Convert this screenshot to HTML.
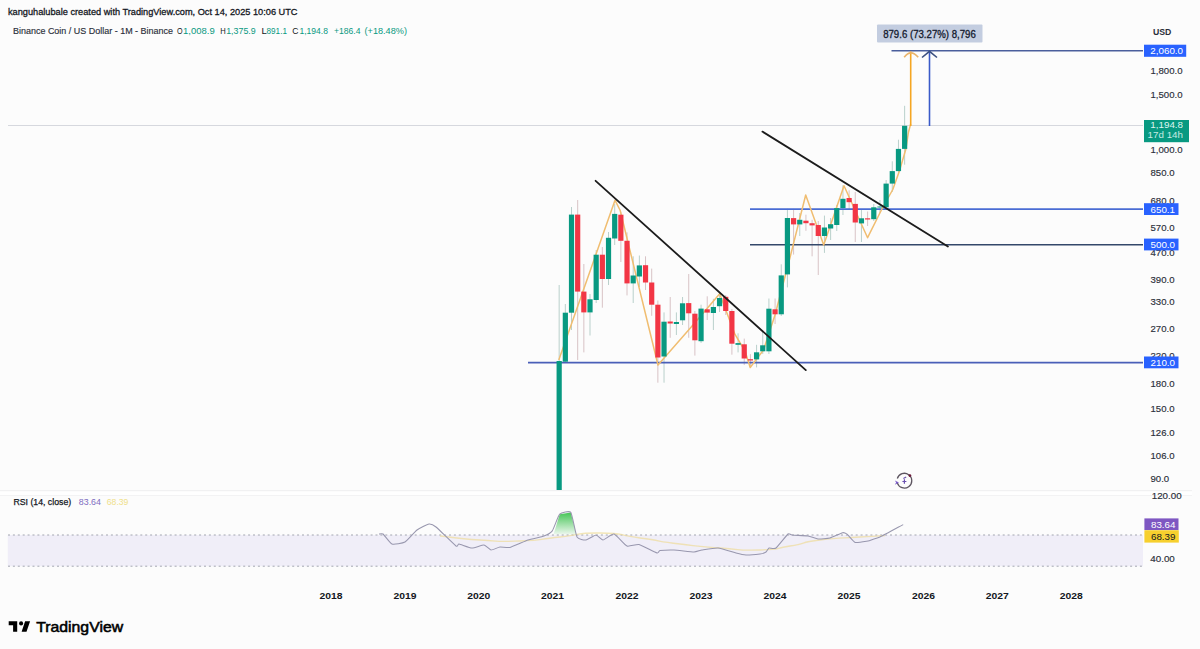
<!DOCTYPE html>
<html><head><meta charset="utf-8"><style>
html,body{margin:0;padding:0;background:#fcfcfc;}
svg{display:block;}
text{font-family:"Liberation Sans",sans-serif;}
.ax{font-size:9.8px;fill:#2a2e39;stroke:#2a2e39;stroke-width:0.15;}
.yr{font-size:9.8px;font-weight:bold;fill:#131722;}
</style></head><body>
<svg width="1200" height="649" viewBox="0 0 1200 649">
<rect width="1200" height="649" fill="#fcfcfc"/>
<!-- header -->
<text x="8" y="14.8" textLength="289.5" lengthAdjust="spacingAndGlyphs" style="font-size:9.9px;fill:#131722;stroke:#131722;stroke-width:0.3">kanguhalubale created with TradingView.com, Oct 14, 2025 10:06 UTC</text>
<text x="13" y="34" textLength="160" lengthAdjust="spacingAndGlyphs" style="font-size:9.6px;fill:#2a2e39;stroke:#2a2e39;stroke-width:0.15">Binance Coin / US Dollar - 1M - Binance</text>
<g style="font-size:9.6px">
<text x="177" y="34" textLength="5.6" lengthAdjust="spacingAndGlyphs" fill="#131722">O</text>
<text x="183" y="34" textLength="31.7" lengthAdjust="spacingAndGlyphs" fill="#089981">1,008.9</text>
<text x="220.3" y="34" textLength="5.5" lengthAdjust="spacingAndGlyphs" fill="#131722">H</text>
<text x="226.2" y="34" textLength="29.5" lengthAdjust="spacingAndGlyphs" fill="#089981">1,375.9</text>
<text x="261.5" y="34" fill="#131722">L</text>
<text x="266.5" y="34" textLength="20.5" lengthAdjust="spacingAndGlyphs" fill="#089981">891.1</text>
<text x="292.3" y="34" textLength="6.2" lengthAdjust="spacingAndGlyphs" fill="#131722">C</text>
<text x="299.5" y="34" textLength="28.5" lengthAdjust="spacingAndGlyphs" fill="#089981">1,194.8</text>
<text x="334" y="34" textLength="26.5" lengthAdjust="spacingAndGlyphs" fill="#089981">+186.4</text>
<text x="364.5" y="34" textLength="42.5" lengthAdjust="spacingAndGlyphs" fill="#089981">(+18.48%)</text>
</g>
<!-- current price line -->
<line x1="8" y1="125.5" x2="1143" y2="125.5" stroke="#d6d8de" stroke-width="1"/>
<!-- pane separator -->
<rect x="0" y="490.2" width="1192" height="5.6" fill="#ffffff"/>
<line x1="0" y1="490.7" x2="1192" y2="490.7" stroke="#f1f1f2" stroke-width="1.2"/>
<line x1="0" y1="495.5" x2="1192" y2="495.5" stroke="#f3f3f4" stroke-width="1.2"/>
<!-- wicks -->
<line x1="559.17" y1="285" x2="559.17" y2="490" stroke="#b9d0cb" stroke-width="1"/>
<line x1="565.34" y1="304" x2="565.34" y2="363" stroke="#b9d0cb" stroke-width="1"/>
<line x1="571.51" y1="207" x2="571.51" y2="330" stroke="#b9d0cb" stroke-width="1"/>
<line x1="577.68" y1="200" x2="577.68" y2="360" stroke="#d8c3c6" stroke-width="1"/>
<line x1="583.85" y1="264" x2="583.85" y2="352.4" stroke="#d8c3c6" stroke-width="1"/>
<line x1="590.01" y1="294" x2="590.01" y2="335.5" stroke="#b9d0cb" stroke-width="1"/>
<line x1="596.18" y1="250" x2="596.18" y2="303" stroke="#b9d0cb" stroke-width="1"/>
<line x1="602.35" y1="247" x2="602.35" y2="307.7" stroke="#d8c3c6" stroke-width="1"/>
<line x1="608.52" y1="232" x2="608.52" y2="285" stroke="#b9d0cb" stroke-width="1"/>
<line x1="614.69" y1="204" x2="614.69" y2="245" stroke="#b9d0cb" stroke-width="1"/>
<line x1="620.86" y1="212" x2="620.86" y2="262" stroke="#d8c3c6" stroke-width="1"/>
<line x1="627.03" y1="232.4" x2="627.03" y2="295.4" stroke="#d8c3c6" stroke-width="1"/>
<line x1="633.20" y1="256.3" x2="633.20" y2="303" stroke="#b9d0cb" stroke-width="1"/>
<line x1="639.37" y1="255.5" x2="639.37" y2="287" stroke="#b9d0cb" stroke-width="1"/>
<line x1="645.53" y1="256.3" x2="645.53" y2="290" stroke="#d8c3c6" stroke-width="1"/>
<line x1="651.70" y1="268.6" x2="651.70" y2="315.8" stroke="#d8c3c6" stroke-width="1"/>
<line x1="657.87" y1="300.5" x2="657.87" y2="382.7" stroke="#d8c3c6" stroke-width="1"/>
<line x1="664.04" y1="312.4" x2="664.04" y2="382.7" stroke="#b9d0cb" stroke-width="1"/>
<line x1="670.21" y1="297" x2="670.21" y2="337.8" stroke="#d8c3c6" stroke-width="1"/>
<line x1="676.38" y1="312.4" x2="676.38" y2="335" stroke="#b9d0cb" stroke-width="1"/>
<line x1="682.55" y1="297" x2="682.55" y2="325" stroke="#b9d0cb" stroke-width="1"/>
<line x1="688.72" y1="274" x2="688.72" y2="337.8" stroke="#d8c3c6" stroke-width="1"/>
<line x1="694.89" y1="311" x2="694.89" y2="355.6" stroke="#d8c3c6" stroke-width="1"/>
<line x1="701.06" y1="304.7" x2="701.06" y2="342.9" stroke="#b9d0cb" stroke-width="1"/>
<line x1="707.23" y1="296.3" x2="707.23" y2="320" stroke="#d8c3c6" stroke-width="1"/>
<line x1="713.39" y1="298.8" x2="713.39" y2="330" stroke="#b9d0cb" stroke-width="1"/>
<line x1="719.56" y1="293.7" x2="719.56" y2="312" stroke="#b9d0cb" stroke-width="1"/>
<line x1="725.73" y1="295" x2="725.73" y2="315" stroke="#d8c3c6" stroke-width="1"/>
<line x1="731.90" y1="309" x2="731.90" y2="354.7" stroke="#d8c3c6" stroke-width="1"/>
<line x1="738.07" y1="333.3" x2="738.07" y2="352.4" stroke="#b9d0cb" stroke-width="1"/>
<line x1="744.24" y1="338.6" x2="744.24" y2="365" stroke="#d8c3c6" stroke-width="1"/>
<line x1="750.41" y1="354.2" x2="750.41" y2="367" stroke="#d8c3c6" stroke-width="1"/>
<line x1="756.58" y1="344.8" x2="756.58" y2="367.4" stroke="#b9d0cb" stroke-width="1"/>
<line x1="762.75" y1="330" x2="762.75" y2="354" stroke="#b9d0cb" stroke-width="1"/>
<line x1="768.91" y1="298.5" x2="768.91" y2="354" stroke="#b9d0cb" stroke-width="1"/>
<line x1="775.08" y1="298.5" x2="775.08" y2="324" stroke="#d8c3c6" stroke-width="1"/>
<line x1="781.25" y1="264.3" x2="781.25" y2="316" stroke="#b9d0cb" stroke-width="1"/>
<line x1="787.42" y1="208.8" x2="787.42" y2="287.4" stroke="#b9d0cb" stroke-width="1"/>
<line x1="793.59" y1="208.8" x2="793.59" y2="254.6" stroke="#d8c3c6" stroke-width="1"/>
<line x1="799.76" y1="213" x2="799.76" y2="236" stroke="#b9d0cb" stroke-width="1"/>
<line x1="805.93" y1="214.7" x2="805.93" y2="230.8" stroke="#d8c3c6" stroke-width="1"/>
<line x1="812.10" y1="219.8" x2="812.10" y2="256.3" stroke="#d8c3c6" stroke-width="1"/>
<line x1="818.27" y1="221" x2="818.27" y2="275" stroke="#d8c3c6" stroke-width="1"/>
<line x1="824.44" y1="215.6" x2="824.44" y2="252.9" stroke="#b9d0cb" stroke-width="1"/>
<line x1="830.61" y1="218" x2="830.61" y2="240" stroke="#b9d0cb" stroke-width="1"/>
<line x1="836.77" y1="205" x2="836.77" y2="231" stroke="#b9d0cb" stroke-width="1"/>
<line x1="842.94" y1="185.3" x2="842.94" y2="215" stroke="#b9d0cb" stroke-width="1"/>
<line x1="849.11" y1="190.3" x2="849.11" y2="209" stroke="#d8c3c6" stroke-width="1"/>
<line x1="855.28" y1="192" x2="855.28" y2="242" stroke="#d8c3c6" stroke-width="1"/>
<line x1="861.45" y1="209" x2="861.45" y2="242" stroke="#b9d0cb" stroke-width="1"/>
<line x1="867.62" y1="211.5" x2="867.62" y2="226" stroke="#d8c3c6" stroke-width="1"/>
<line x1="873.79" y1="204" x2="873.79" y2="221" stroke="#b9d0cb" stroke-width="1"/>
<line x1="879.96" y1="200" x2="879.96" y2="213" stroke="#b9d0cb" stroke-width="1"/>
<line x1="886.13" y1="180" x2="886.13" y2="210" stroke="#b9d0cb" stroke-width="1"/>
<line x1="892.29" y1="161.3" x2="892.29" y2="192" stroke="#b9d0cb" stroke-width="1"/>
<line x1="898.46" y1="139.7" x2="898.46" y2="173" stroke="#b9d0cb" stroke-width="1"/>
<line x1="904.63" y1="105.8" x2="904.63" y2="164.7" stroke="#b9d0cb" stroke-width="1"/>
<!-- horizontal lines -->
<line x1="750" y1="209.2" x2="1143" y2="209.2" stroke="#4a6cd4" stroke-width="1.8"/>
<line x1="750" y1="244.7" x2="1143" y2="244.7" stroke="#34486a" stroke-width="1.5"/>
<line x1="528" y1="362.6" x2="1143" y2="362.6" stroke="#4a5fb8" stroke-width="1.8"/>

<!-- zigzag -->
<path d="M558.8,360 L615,200.2 L620.2,210.5 L658,365 L690.8,327.6 L719.7,293.7 L735,334.4 L745,351 L750.2,367.5 L763.5,350 L775,315 L790.4,256 L805.7,195 L823.7,245 L844,185.7 L867.6,237.7 L882.4,208 L892.8,189.5 L899.4,171 L905.9,149 L908.5,132 L910.7,124" fill="none" stroke="#f0bd70" stroke-width="1.5" stroke-linejoin="round"/>
<!-- candles -->
<rect x="556.57" y="361" width="5.2" height="129.00" fill="#089981"/>
<rect x="562.74" y="312.7" width="5.2" height="49.00" fill="#089981"/>
<rect x="568.91" y="214.6" width="5.2" height="98.10" fill="#089981"/>
<rect x="575.08" y="214.6" width="5.2" height="77.00" fill="#f23645"/>
<rect x="581.25" y="291.6" width="5.2" height="20.80" fill="#f23645"/>
<rect x="587.41" y="299.3" width="5.2" height="13.10" fill="#089981"/>
<rect x="593.58" y="254.7" width="5.2" height="45.30" fill="#089981"/>
<rect x="599.75" y="254.7" width="5.2" height="24.30" fill="#f23645"/>
<rect x="605.92" y="237.8" width="5.2" height="41.20" fill="#089981"/>
<rect x="612.09" y="213.9" width="5.2" height="24.60" fill="#089981"/>
<rect x="618.26" y="214.7" width="5.2" height="26.10" fill="#f23645"/>
<rect x="624.43" y="240.8" width="5.2" height="42.60" fill="#f23645"/>
<rect x="630.60" y="275.5" width="5.2" height="7.90" fill="#089981"/>
<rect x="636.77" y="265.4" width="5.2" height="11.10" fill="#089981"/>
<rect x="642.93" y="265.2" width="5.2" height="17.30" fill="#f23645"/>
<rect x="649.10" y="282.5" width="5.2" height="22.20" fill="#f23645"/>
<rect x="655.27" y="304.7" width="5.2" height="52.80" fill="#f23645"/>
<rect x="661.44" y="321.7" width="5.2" height="34.80" fill="#089981"/>
<rect x="667.61" y="321.5" width="5.2" height="2.00" fill="#f23645"/>
<rect x="673.78" y="322" width="5.2" height="2.00" fill="#089981"/>
<rect x="679.95" y="303.3" width="5.2" height="17.00" fill="#089981"/>
<rect x="686.12" y="303.1" width="5.2" height="10.20" fill="#f23645"/>
<rect x="692.29" y="313.7" width="5.2" height="26.60" fill="#f23645"/>
<rect x="698.46" y="308.6" width="5.2" height="32.60" fill="#089981"/>
<rect x="704.62" y="309.3" width="5.2" height="3.30" fill="#f23645"/>
<rect x="710.79" y="307" width="5.2" height="6.00" fill="#089981"/>
<rect x="716.96" y="298" width="5.2" height="8.20" fill="#089981"/>
<rect x="723.13" y="296.8" width="5.2" height="14.20" fill="#f23645"/>
<rect x="729.30" y="311" width="5.2" height="32.70" fill="#f23645"/>
<rect x="735.47" y="343.1" width="5.2" height="1.70" fill="#089981"/>
<rect x="741.64" y="344.3" width="5.2" height="14.20" fill="#f23645"/>
<rect x="747.81" y="359.2" width="5.2" height="1.30" fill="#f23645"/>
<rect x="753.98" y="352.3" width="5.2" height="7.10" fill="#089981"/>
<rect x="760.15" y="345.3" width="5.2" height="6.00" fill="#089981"/>
<rect x="766.31" y="308.7" width="5.2" height="42.60" fill="#089981"/>
<rect x="772.48" y="309.3" width="5.2" height="5.00" fill="#f23645"/>
<rect x="778.65" y="275.4" width="5.2" height="38.90" fill="#089981"/>
<rect x="784.82" y="218" width="5.2" height="56.40" fill="#089981"/>
<rect x="790.99" y="218.1" width="5.2" height="6.30" fill="#f23645"/>
<rect x="797.16" y="219.8" width="5.2" height="4.60" fill="#089981"/>
<rect x="803.33" y="220.7" width="5.2" height="2.50" fill="#f23645"/>
<rect x="809.50" y="223.2" width="5.2" height="2.20" fill="#f23645"/>
<rect x="815.67" y="225" width="5.2" height="11.00" fill="#f23645"/>
<rect x="821.84" y="227.5" width="5.2" height="8.50" fill="#089981"/>
<rect x="828.00" y="224.2" width="5.2" height="4.30" fill="#089981"/>
<rect x="834.17" y="208.1" width="5.2" height="16.90" fill="#089981"/>
<rect x="840.34" y="198.8" width="5.2" height="9.30" fill="#089981"/>
<rect x="846.51" y="198" width="5.2" height="4.20" fill="#f23645"/>
<rect x="852.68" y="203.9" width="5.2" height="18.60" fill="#f23645"/>
<rect x="858.85" y="218.3" width="5.2" height="5.10" fill="#089981"/>
<rect x="865.02" y="218.3" width="5.2" height="1.20" fill="#f23645"/>
<rect x="871.19" y="207.3" width="5.2" height="11.90" fill="#089981"/>
<rect x="877.36" y="206.5" width="5.2" height="1.00" fill="#089981"/>
<rect x="883.53" y="183.6" width="5.2" height="23.70" fill="#089981"/>
<rect x="889.69" y="171.1" width="5.2" height="12.50" fill="#089981"/>
<rect x="895.86" y="148.9" width="5.2" height="22.20" fill="#089981"/>
<rect x="902.03" y="125.8" width="5.2" height="23.10" fill="#089981"/>
<!-- arrows -->
<line x1="891.5" y1="50.8" x2="1143" y2="50.8" stroke="#4a5e9c" stroke-width="1.6"/>
<line x1="910.7" y1="126" x2="910.7" y2="51.5" stroke="#f5a623" stroke-width="1.6"/>
<path d="M904.2,57.3 Q910.7,48.5 918.2,57.3" fill="none" stroke="#e9b36a" stroke-width="1.6"/>
<line x1="929.5" y1="126" x2="929.5" y2="51.5" stroke="#3a5ac8" stroke-width="1.6"/>
<path d="M922,57.5 L929.5,51.3 L937,57.5" fill="none" stroke="#3b5080" stroke-width="1.6"/>

<!-- trend lines -->
<line x1="595.6" y1="180.8" x2="805.8" y2="370.1" stroke="#1c1c1c" stroke-width="1.8" stroke-linecap="round"/>
<line x1="762.4" y1="131.6" x2="947.9" y2="246.6" stroke="#1c1c1c" stroke-width="1.8" stroke-linecap="round"/>
<!-- measure label -->
<rect x="877" y="24.6" width="105.5" height="17.9" fill="#c3cde0" rx="1"/>
<text x="929.5" y="38" text-anchor="middle" textLength="92.7" lengthAdjust="spacingAndGlyphs" style="font-size:10.4px;fill:#141a2e;stroke:#141a2e;stroke-width:0.3">879.6 (73.27%) 8,796</text>
<!-- price axis -->
<text x="1152.9" y="34.6" textLength="18.4" lengthAdjust="spacingAndGlyphs" style="font-size:9px;font-weight:bold;fill:#2a2e39">USD</text>
<text x="1150.5" y="73.5" class="ax" textLength="32.03" lengthAdjust="spacingAndGlyphs">1,800.0</text>
<text x="1150.5" y="97.7" class="ax" textLength="32.03" lengthAdjust="spacingAndGlyphs">1,500.0</text>
<text x="1150.5" y="153.2" class="ax" textLength="32.03" lengthAdjust="spacingAndGlyphs">1,000.0</text>
<text x="1150.5" y="176.0" class="ax" textLength="24.02" lengthAdjust="spacingAndGlyphs">850.0</text>
<text x="1150.5" y="203.5" class="ax" textLength="24.02" lengthAdjust="spacingAndGlyphs">680.0</text>
<text x="1150.5" y="230.5" class="ax" textLength="24.02" lengthAdjust="spacingAndGlyphs">570.0</text>
<text x="1150.5" y="255.5" class="ax" textLength="24.02" lengthAdjust="spacingAndGlyphs">470.0</text>
<text x="1150.5" y="282.5" class="ax" textLength="24.02" lengthAdjust="spacingAndGlyphs">390.0</text>
<text x="1150.5" y="305.0" class="ax" textLength="24.02" lengthAdjust="spacingAndGlyphs">330.0</text>
<text x="1150.5" y="332.0" class="ax" textLength="24.02" lengthAdjust="spacingAndGlyphs">270.0</text>
<text x="1150.5" y="358.5" class="ax" textLength="24.02" lengthAdjust="spacingAndGlyphs">220.0</text>
<text x="1150.5" y="386.5" class="ax" textLength="24.02" lengthAdjust="spacingAndGlyphs">180.0</text>
<text x="1150.5" y="411.5" class="ax" textLength="24.02" lengthAdjust="spacingAndGlyphs">150.0</text>
<text x="1150.5" y="436.0" class="ax" textLength="24.02" lengthAdjust="spacingAndGlyphs">126.0</text>
<text x="1150.5" y="458.9" class="ax" textLength="24.02" lengthAdjust="spacingAndGlyphs">106.0</text>
<text x="1150.5" y="481.5" class="ax" textLength="18.68" lengthAdjust="spacingAndGlyphs">90.0</text>
<rect x="1144" y="44.7" width="42.2" height="12.1" fill="#2962ff"/>
<text x="1183" y="54.1" text-anchor="end" class="ax" style="fill:#fff;stroke:none">2,060.0</text>
<rect x="1144" y="120" width="45" height="22.2" fill="#089981"/>
<text x="1183" y="127.6" text-anchor="end" class="ax" style="fill:#dff5f0;stroke:none">1,194.8</text>
<text x="1183" y="137.9" text-anchor="end" class="ax" style="fill:#c5ebe3;stroke:none">17d 14h</text>
<rect x="1144" y="203.2" width="34.5" height="11.8" fill="#2962ff"/>
<text x="1150.5" y="212.6" class="ax" style="fill:#fff;stroke:none">650.1</text>
<rect x="1144" y="238.6" width="34.5" height="11.8" fill="#2962ff"/>
<text x="1150.5" y="248" class="ax" style="fill:#fff;stroke:none">500.0</text>
<rect x="1144" y="356.5" width="34.5" height="11.8" fill="#2962ff"/>
<text x="1150.5" y="365.9" class="ax" style="fill:#fff;stroke:none">210.0</text>
<!-- purple icon -->
<g transform="translate(904.4,480.5)">
<path d="M-7.1,2.4 A7.4,7.4 0 1 0 -7.1,-2.0" fill="none" stroke="#5d5560" stroke-width="1.3"/>
<circle cx="5.5" cy="-4.9" r="1.4" fill="#6b1a3a"/>
<path d="M-9.5,0 L-5.5,2.1 L-9.5,4.2 L-8.3,2.1 Z" fill="#7a5ac8"/>
<path d="M-2,1 L2,1 M0,-1.2 L0,3.2 M-1,-2 L1.8,-3.5" stroke="#6a50b0" stroke-width="1.2" fill="none"/>
</g>
<!-- RSI pane -->
<text x="13.4" y="504.9" textLength="57.8" lengthAdjust="spacingAndGlyphs" style="font-size:9.2px;fill:#131722;stroke:#131722;stroke-width:0.25">RSI (14, close)</text>
<text x="78.8" y="504.9" textLength="22.2" lengthAdjust="spacingAndGlyphs" style="font-size:9.2px;fill:#7e6cc0">83.64</text>
<text x="106.8" y="504.9" textLength="21.6" lengthAdjust="spacingAndGlyphs" style="font-size:9.2px;fill:#efe08a">68.39</text>
<rect x="7.8" y="535" width="1135.2" height="31.2" fill="#f0eef8"/>
<line x1="8" y1="535" x2="1143" y2="535" stroke="#9a9da8" stroke-width="0.9" stroke-dasharray="2,2.9"/>
<line x1="8" y1="566.2" x2="1143" y2="566.2" stroke="#9a9da8" stroke-width="0.9" stroke-dasharray="2,2.9"/>
<path d="M440,536 C453.3,537.3 453.3,538.3 480,540 C506.7,541.7 493.3,542.0 520,541 C546.7,540.0 533.3,539.7 560,537 C586.7,534.3 573.3,532.7 600,533 C626.7,533.3 613.3,534.3 640,538 C666.7,541.7 653.3,540.7 680,544 C706.7,547.3 693.3,546.0 720,548 C746.7,550.0 736.7,550.7 760,550 C783.3,549.3 770.0,549.3 790,546 C810.0,542.7 796.7,543.0 820,540 C843.3,537.0 838.3,538.5 860,537 C881.7,535.5 876.7,536.0 885,535.5" fill="none" stroke="#eedc9a" stroke-width="1.3" opacity="0.7"/>
<defs><linearGradient id="gg" x1="0" y1="0" x2="0" y2="1"><stop offset="0" stop-color="#3cc24e" stop-opacity="0.95"/><stop offset="1" stop-color="#3cc24e" stop-opacity="0.08"/></linearGradient></defs>
<path d="M553.5,534.5 L559.7,514.2 L570.8,512.4 L576.4,534.5 Z" fill="url(#gg)"/>
<path d="M379,534 C379.3,534.0 381.9,533.2 383,534 C384.1,534.8 390.2,543.3 392,544 C393.8,544.7 402.9,543.2 405,542 C407.1,540.8 415.0,531.5 417,530 C419.0,528.5 427.4,524.2 429,524 C430.6,523.8 433.8,525.2 436,527 C438.2,528.8 454.1,544.6 456,546 C457.9,547.4 457.7,543.8 459,544 C460.3,544.2 469.9,547.9 472,548 C474.1,548.1 482.4,544.8 484,545 C485.6,545.2 489.7,549.8 491,550 C492.3,550.2 498.4,547.2 500,547 C501.6,546.8 507.7,548.0 510,547.4 C512.3,546.8 525.2,541.0 528,540 C530.8,539.0 542.0,536.8 544,536 C546.0,535.2 551.0,532.7 552.3,530.9 C553.6,529.1 558.2,515.7 559.7,514.2 C561.2,512.7 569.4,510.5 570.8,512.4 C572.2,514.3 575.7,534.7 577,537 C578.3,539.3 584.4,540.2 586,540 C587.6,539.8 594.6,535.0 596,535 C597.4,535.0 601.5,540.1 603,540 C604.5,539.9 612.0,533.5 614,534 C616.0,534.5 624.9,545.1 627,546 C629.1,546.9 636.5,544.0 639,544.6 C641.5,545.2 655.2,552.5 657,553 C658.8,553.5 658.6,550.9 660,550.6 C661.4,550.4 671.2,549.9 674,550 C676.8,550.1 691.7,552.0 694,552 C696.3,552.0 700.0,550.3 702,550 C704.0,549.7 715.2,547.8 718,548 C720.8,548.2 733.7,552.4 736,553 C738.3,553.6 744.0,554.9 746,555 C748.0,555.1 758.3,554.2 760,554 C761.7,553.8 765.2,552.5 766,552 C766.8,551.5 768.2,548.3 769,548 C769.8,547.7 774.4,549.2 776,548 C777.6,546.8 786.7,535.1 788,534 C789.3,532.9 790.3,534.8 792,535 C793.7,535.2 805.8,535.7 808,536 C810.2,536.3 816.2,538.8 818,539 C819.8,539.2 828.0,538.5 830,538 C832.0,537.5 841.1,533.0 842.5,532.7 C843.9,532.4 845.9,533.4 847,534.2 C848.1,535.0 853.5,541.9 855.2,542.5 C857.0,543.1 866.6,541.2 868,541 C869.4,540.8 871.5,539.8 872.5,539.5 C873.5,539.2 877.4,538.2 880,537 C882.6,535.8 901.3,525.6 903.2,524.6" fill="none" stroke="#9897ae" stroke-width="1.05" stroke-linejoin="round"/>
<text x="1151.7" y="498.6" class="ax">120.00</text>
<rect x="1144.4" y="518.4" width="34.1" height="11.6" fill="#7e57c2"/>
<text x="1175.5" y="527.5" text-anchor="end" class="ax" style="fill:#fff;stroke:none">83.64</text>
<rect x="1144.4" y="530.2" width="34.4" height="12.4" fill="#f7d02e"/>
<text x="1175.5" y="539.6" text-anchor="end" class="ax" style="fill:#131722;stroke:none">68.39</text>
<text x="1150.3" y="561.6" class="ax">40.00</text>
<!-- years -->
<text x="319.5" y="598.9" class="yr" textLength="23" lengthAdjust="spacingAndGlyphs">2018</text>
<text x="393.5" y="598.9" class="yr" textLength="23" lengthAdjust="spacingAndGlyphs">2019</text>
<text x="467.25" y="598.9" class="yr" textLength="23" lengthAdjust="spacingAndGlyphs">2020</text>
<text x="541.0" y="598.9" class="yr" textLength="23" lengthAdjust="spacingAndGlyphs">2021</text>
<text x="615.6" y="598.9" class="yr" textLength="23" lengthAdjust="spacingAndGlyphs">2022</text>
<text x="689.5" y="598.9" class="yr" textLength="23" lengthAdjust="spacingAndGlyphs">2023</text>
<text x="763.5" y="598.9" class="yr" textLength="23" lengthAdjust="spacingAndGlyphs">2024</text>
<text x="837.5" y="598.9" class="yr" textLength="23" lengthAdjust="spacingAndGlyphs">2025</text>
<text x="912.0" y="598.9" class="yr" textLength="23" lengthAdjust="spacingAndGlyphs">2026</text>
<text x="985.75" y="598.9" class="yr" textLength="23" lengthAdjust="spacingAndGlyphs">2027</text>
<text x="1059.75" y="598.9" class="yr" textLength="23" lengthAdjust="spacingAndGlyphs">2028</text>
<!-- logo -->
<path d="M8.7,621.3 H17.2 V631.7 H13.1 V625.3 H8.7 Z" fill="#000"/>
<circle cx="21.1" cy="623.4" r="2.05" fill="#000"/>
<path d="M25.1,621.3 H30.1 L26.5,631.7 H21.6 Z" fill="#000"/>
<text x="36.2" y="632.2" textLength="86.9" lengthAdjust="spacingAndGlyphs" style="font-size:15px;fill:#000;stroke:#000;stroke-width:0.55">TradingView</text>
</svg>
</body></html>
